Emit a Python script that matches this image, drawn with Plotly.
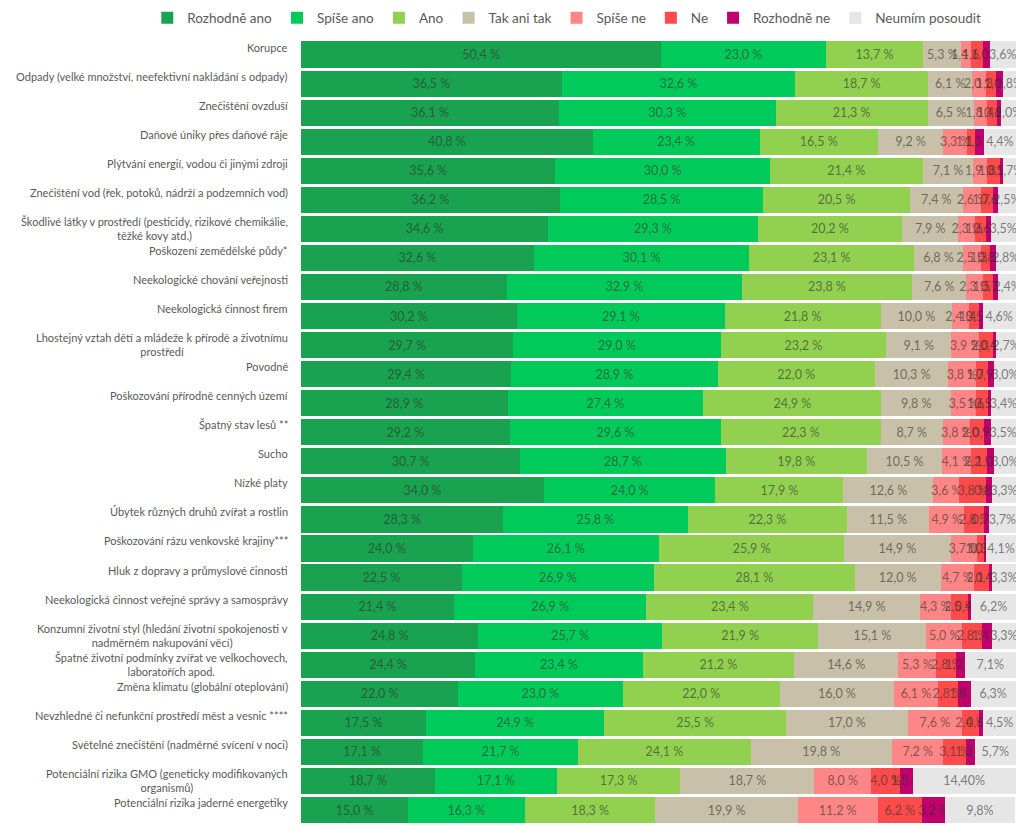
import plotly.graph_objects as go

categories = [
    "Korupce",
    "Odpady (velké množství, neefektivní nakládání s odpady)",
    "Znečištění ovzduší",
    "Daňové úniky přes daňové ráje",
    "Plýtvání energií, vodou či jinými zdroji",
    "Znečištění vod (řek, potoků, nádrží a podzemních vod)",
    "Škodlivé látky v prostředí (pesticidy, rizikové chemikálie,<br>těžké kovy atd.)",
    "Poškození zemědělské půdy*",
    "Neekologické chování veřejnosti",
    "Neekologická činnost firem",
    "Lhostejný vztah dětí a mládeže k přírodě a životnímu<br>prostředí",
    "Povodně",
    "Poškozování přírodně cenných území",
    "Špatný stav lesů **",
    "Sucho",
    "Nízké platy",
    "Úbytek různých druhů zvířat a rostlin",
    "Poškozování rázu venkovské krajiny***",
    "Hluk z dopravy a průmyslové činnosti",
    "Neekologická činnost veřejné správy a samosprávy",
    "Konzumní životní styl (hledání životní spokojenosti v<br>nadměrném nakupování věcí)",
    "Špatné životní podmínky zvířat ve velkochovech,<br>laboratořích apod.",
    "Změna klimatu (globální oteplování)",
    "Nevzhledné či nefunkční prostředí měst a vesnic ****",
    "Světelné znečištění (nadměrné svícení v noci)",
    "Potenciální rizika GMO (geneticky modifikovaných<br>organismů)",
    "Potenciální rizika jaderné energetiky",
]

rozhodne_ano = [50.4, 36.5, 36.1, 40.8, 35.6, 36.2, 34.6, 32.6, 28.8, 30.2, 29.7, 29.4, 28.9, 29.2,
                30.7, 34.0, 28.3, 24.0, 22.5, 21.4, 24.8, 24.4, 22.0, 17.5, 17.1, 18.7, 15.0]
spise_ano = [23.0, 32.6, 30.3, 23.4, 30.0, 28.5, 29.3, 30.1, 32.9, 29.1, 29.0, 28.9, 27.4, 29.6,
             28.7, 24.0, 25.8, 26.1, 26.9, 26.9, 25.7, 23.4, 23.0, 24.9, 21.7, 17.1, 16.3]
ano = [13.7, 18.7, 21.3, 16.5, 21.4, 20.5, 20.2, 23.1, 23.8, 21.8, 23.2, 22.0, 24.9, 22.3,
       19.8, 17.9, 22.3, 25.9, 28.1, 23.4, 21.9, 21.2, 22.0, 25.5, 24.1, 17.3, 18.3]
tak_ani_tak = [5.3, 6.1, 6.5, 9.2, 7.1, 7.4, 7.9, 6.8, 7.6, 10.0, 9.1, 10.3, 9.8, 8.7,
               10.5, 12.6, 11.5, 14.9, 12.0, 14.9, 15.1, 14.6, 16.0, 17.0, 19.8, 18.7, 19.9]
spise_ne = [1.4, 2.0, 1.8, 3.3, 1.9, 2.6, 2.3, 2.5, 2.3, 2.4, 3.9, 3.8, 3.5, 3.8,
            4.1, 3.6, 4.9, 3.7, 4.7, 4.3, 5.0, 5.3, 6.1, 7.6, 7.2, 8.0, 11.2]
ne = [1.6, 1.3, 1.4, 1.1, 1.8, 1.7, 1.6, 1.3, 1.5, 1.4, 2.0, 1.7, 1.6, 2.0,
      2.2, 3.8, 2.8, 1.0, 2.1, 2.5, 2.8, 2.8, 2.8, 2.4, 3.1, 4.0, 6.2]
rozhodne_ne = [1.0, 1.0, 0.6, 1.3, 0.5, 0.6, 0.6, 0.8, 0.7, 0.5, 0.4, 0.9, 0.5, 0.9,
               1.0, 0.8, 0.7, 0.3, 0.4, 0.4, 1.4, 1.2, 1.8, 0.6, 1.3, 1.8, 3.2]
neumim = [3.6, 1.8, 2.0, 4.4, 1.7, 2.5, 3.5, 2.8, 2.4, 4.6, 2.7, 3.0, 3.4, 3.5,
          3.0, 3.3, 3.7, 4.1, 3.3, 6.2, 3.3, 7.1, 6.3, 4.5, 5.7, 14.4, 9.8]

series = [
    ("Rozhodně ano", rozhodne_ano, "#19a24f"),
    ("Spíše ano", spise_ano, "#00cb5a"),
    ("Ano", ano, "#92d050"),
    ("Tak ani tak", tak_ani_tak, "#c8c0a8"),
    ("Spíše ne", spise_ne, "#ff8686"),
    ("Ne", ne, "#ff4b4b"),
    ("Rozhodně ne", rozhodne_ne, "#c0006c"),
    ("Neumím posoudit", neumim, "#e6e6e6"),
]

FONT = "Lato, 'Open Sans', sans-serif"
TEXT_GREY = "#595959"
VALUE_TEXT = "rgba(48,48,48,0.62)"


def fmt(v, last=False):
    s = f"{v:.1f}".replace(".", ",")
    return s + "%" if last else s + " %"


fig = go.Figure()
for i, (name, vals, color) in enumerate(series):
    last = i == len(series) - 1
    labels = [fmt(v, last) for v in vals]
    if last:
        # the GMO row is printed with two decimals in the source
        labels[25] = "14,40%"
    fig.add_trace(go.Bar(
        y=categories, x=vals, name=name, orientation="h",
        marker=dict(color=color, line=dict(width=0)),
        text=labels, textposition="inside", insidetextanchor="middle",
        textangle=0, constraintext="none",
        textfont=dict(color=VALUE_TEXT, size=12.5, family=FONT),
        cliponaxis=False,
    ))

# category labels sit at the top of each row, like the original
for cat in categories:
    fig.add_annotation(
        x=0, xref="paper", y=cat, yref="y", xanchor="right", yanchor="top",
        yshift=16, xshift=-11, text=cat, showarrow=False, align="center",
        font=dict(size=11, color=TEXT_GREY, family=FONT),
    )

# page body keeps its default 8px margin, so the figure is sized to fit inside it
fig.update_layout(
    barmode="stack",
    bargap=0.1,
    width=1008, height=820,
    margin=dict(l=293, r=0, t=32, b=2, autoexpand=False),
    paper_bgcolor="white", plot_bgcolor="white",
    font=dict(family=FONT, size=11, color=TEXT_GREY),
    uniformtext=dict(minsize=12.5, mode="show"),
    legend=dict(
        orientation="h", xref="paper", yref="paper",
        x=-0.215, xanchor="left", y=1.028, yanchor="middle",
        font=dict(size=13.5, color=TEXT_GREY, family=FONT),
        itemwidth=30, traceorder="normal",
    ),
    xaxis=dict(range=[0, 100.05], visible=False, fixedrange=True),
    yaxis=dict(autorange="reversed", showticklabels=False, showgrid=False,
               zeroline=False, fixedrange=True),
)

fig.write_html("out.html")
